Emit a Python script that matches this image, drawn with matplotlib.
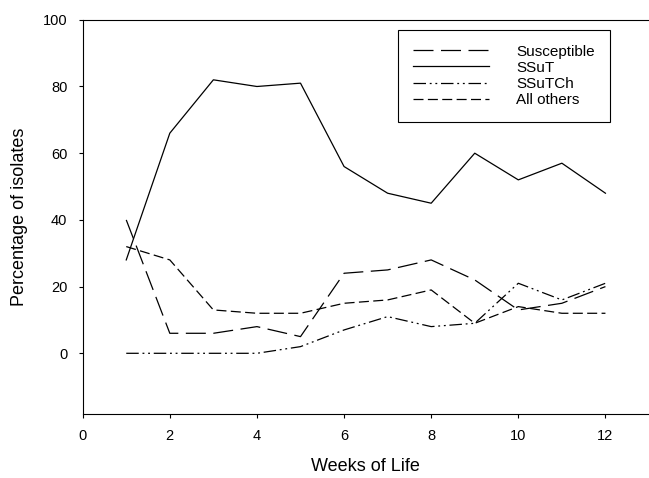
import numpy as np
from matplotlib import pyplot as plt

plt.rcParams['font.family'] = ['Liberation Sans', 'DejaVu Sans']

semanas = [1, 2, 3, 4, 5, 6, 7, 8, 9, 10, 11, 12]
susceptible = [40, 6, 6, 8, 5, 24, 25, 28, 22, 13, 15, 20]
ssut = [28, 66, 82, 80, 81, 56, 48, 45, 60, 52, 57, 48]
ssutch = [0, 0, 0, 0, 2, 7, 11, 8, 9, 21, 16, 21]
otros = [32, 28, 13, 12, 12, 15, 16, 19, 9, 14, 12, 12]

xticks = [0, 2, 4, 6, 8, 10, 12]
yticks = [0, 20, 40, 60, 80, 100]

fig = plt.figure(figsize=(6.49, 4.78), dpi=100)
# ejes: izquierda 82.7px, abajo 414px, arriba 19.8px
ax = fig.add_axes([0.1274, 0.1339, 0.8726, 0.8247])

ax.plot(semanas, susceptible, color='black', lw=0.9, dashes=(16, 6), label='Susceptible')
ax.plot(semanas, ssut, color='black', lw=0.9, label='SSuT')
ax.plot(semanas, ssutch, color='black', lw=0.9, dashes=(10, 3, 1.5, 3, 1.5, 3), label='SSuTCh')
ax.plot(semanas, otros, color='black', lw=0.9, dashes=(8, 3.5), label='All others')

ax.set_xlim(0, 13)
ax.set_ylim(-18.2, 100)
ax.set_xticks(xticks)
ax.set_yticks(yticks)
ax.tick_params(direction='out', length=3, width=0.8, labelsize=10.5, pad=8)
ax.spines['right'].set_visible(False)
for s in ['top', 'left', 'bottom']:
    ax.spines[s].set_linewidth(0.8)

ax.set_xlabel('Weeks of Life', fontsize=13)
ax.set_ylabel('Percentage of isolates', fontsize=13)
ax.xaxis.set_label_coords(0.5, -0.112)
ax.yaxis.set_label_coords(-0.097, 0.5)

leg = ax.legend(loc='upper left', bbox_to_anchor=(0.5568, 0.974), fontsize=11,
                handlelength=5.0, handletextpad=1.8, labelspacing=0.15,
                borderpad=0.95, fancybox=False, framealpha=1, borderaxespad=0)
leg.get_frame().set_edgecolor('black')
leg.get_frame().set_linewidth(0.8)

plt.savefig('out.png', dpi=100)
